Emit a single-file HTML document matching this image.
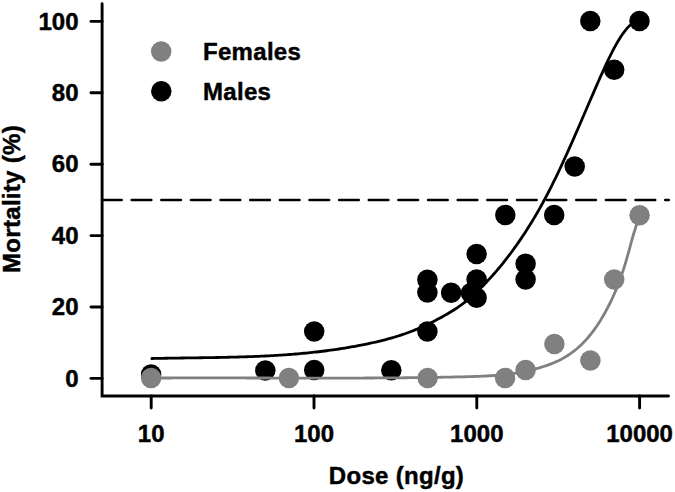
<!DOCTYPE html><html><head><meta charset="utf-8"><style>html,body{margin:0;padding:0;background:#fff;}svg{display:block;}text{font-family:"Liberation Sans",sans-serif;font-weight:bold;font-size:24px;fill:#000;stroke:#000;stroke-width:0.45px;}.w{letter-spacing:0.3px;}</style></head><body>
<svg width="675" height="492" viewBox="0 0 675 492">
<g stroke="#000" stroke-width="2.9" stroke-linecap="round" fill="none">
<path d="M102.1,3.7 L102.1,396 L668.5,396" stroke-linejoin="miter"/>
<line x1="91" y1="378.36" x2="102.1" y2="378.36"/>
<line x1="91" y1="306.97" x2="102.1" y2="306.97"/>
<line x1="91" y1="235.58" x2="102.1" y2="235.58"/>
<line x1="91" y1="164.18" x2="102.1" y2="164.18"/>
<line x1="91" y1="92.79" x2="102.1" y2="92.79"/>
<line x1="91" y1="21.40" x2="102.1" y2="21.40"/>
<line x1="151.20" y1="396" x2="151.20" y2="408"/>
<line x1="314.00" y1="396" x2="314.00" y2="408"/>
<line x1="476.80" y1="396" x2="476.80" y2="408"/>
<line x1="639.60" y1="396" x2="639.60" y2="408"/>
</g>
<line x1="102.1" y1="200" x2="668.8" y2="200" stroke="#000" stroke-width="2.7" stroke-dasharray="19.5 10.14" stroke-linecap="round"/>
<text x="78.5" y="386.56" text-anchor="end">0</text>
<text x="78.5" y="315.17" text-anchor="end">20</text>
<text x="78.5" y="243.78" text-anchor="end">40</text>
<text x="78.5" y="172.38" text-anchor="end">60</text>
<text x="78.5" y="100.99" text-anchor="end">80</text>
<text x="78.5" y="29.60" text-anchor="end">100</text>
<text x="151.20" y="442" text-anchor="middle">10</text>
<text x="314.00" y="442" text-anchor="middle">100</text>
<text x="476.80" y="442" text-anchor="middle">1000</text>
<text x="639.60" y="442" text-anchor="middle">10000</text>
<text class="w" x="396.5" y="484" text-anchor="middle">Dose (ng/g)</text>
<text class="w" transform="translate(19.6,199) rotate(-90)" text-anchor="middle">Mortality (%)</text>
<circle cx="161.2" cy="51.6" r="10.25" fill="#808080"/>
<circle cx="161.3" cy="91.25" r="10.25" fill="#000"/>
<text class="w" x="203" y="60">Females</text>
<text class="w" x="203" y="100.1">Males</text>
<circle cx="151.1" cy="374.4" r="10.25" fill="#000"/>
<circle cx="265.3" cy="370.5" r="10.25" fill="#000"/>
<circle cx="314.2" cy="331.4" r="10.25" fill="#000"/>
<circle cx="314.2" cy="370.1" r="10.25" fill="#000"/>
<circle cx="391.3" cy="370.2" r="10.25" fill="#000"/>
<circle cx="427.4" cy="279.8" r="10.25" fill="#000"/>
<circle cx="427.4" cy="292.55" r="10.25" fill="#000"/>
<circle cx="427.4" cy="331.55" r="10.25" fill="#000"/>
<circle cx="451.15" cy="292.75" r="10.25" fill="#000"/>
<circle cx="470.95" cy="293.1" r="10.25" fill="#000"/>
<circle cx="476.6" cy="253.95" r="10.25" fill="#000"/>
<circle cx="476.6" cy="279.55" r="10.25" fill="#000"/>
<circle cx="476.6" cy="297.85" r="10.25" fill="#000"/>
<circle cx="505.3" cy="215.0" r="10.25" fill="#000"/>
<circle cx="525.6" cy="263.65" r="10.25" fill="#000"/>
<circle cx="525.6" cy="279.55" r="10.25" fill="#000"/>
<circle cx="554.2" cy="215.0" r="10.25" fill="#000"/>
<circle cx="574.7" cy="166.55" r="10.25" fill="#000"/>
<circle cx="590.3" cy="21.05" r="10.25" fill="#000"/>
<circle cx="614.2" cy="69.8" r="10.25" fill="#000"/>
<circle cx="639.5" cy="21.05" r="10.25" fill="#000"/>
<circle cx="151.1" cy="378" r="10.25" fill="#808080"/>
<circle cx="288.9" cy="378" r="10.25" fill="#808080"/>
<circle cx="427.6" cy="378" r="10.25" fill="#808080"/>
<circle cx="505.1" cy="377.9" r="10.25" fill="#808080"/>
<circle cx="525.6" cy="370.1" r="10.25" fill="#808080"/>
<circle cx="554.4" cy="344" r="10.25" fill="#808080"/>
<circle cx="590.4" cy="360.5" r="10.25" fill="#808080"/>
<circle cx="614.2" cy="279.5" r="10.25" fill="#808080"/>
<circle cx="639.6" cy="215.3" r="10.25" fill="#808080"/>
<polyline points="151.00,378.07 153.04,378.05 155.09,378.04 157.13,378.03 159.18,378.03 161.22,378.02 163.27,378.01 165.31,378.00 167.35,377.99 169.40,377.99 171.44,377.98 173.49,377.97 175.53,377.97 177.58,377.96 179.62,377.96 181.67,377.96 183.71,377.95 185.75,377.95 187.80,377.94 189.84,377.94 191.89,377.94 193.93,377.94 195.98,377.94 198.02,377.94 200.06,377.93 202.11,377.93 204.15,377.93 206.20,377.93 208.24,377.93 210.29,377.93 212.33,377.93 214.37,377.94 216.42,377.94 218.46,377.94 220.51,377.94 222.55,377.94 224.60,377.94 226.64,377.95 228.69,377.95 230.73,377.95 232.77,377.95 234.82,377.96 236.86,377.96 238.91,377.96 240.95,377.97 243.00,377.97 245.04,377.97 247.08,377.98 249.13,377.98 251.17,377.99 253.22,377.99 255.26,377.99 257.31,378.00 259.35,378.00 261.39,378.01 263.44,378.01 265.48,378.01 267.53,378.02 269.57,378.02 271.62,378.03 273.66,378.03 275.71,378.03 277.75,378.04 279.79,378.04 281.84,378.05 283.88,378.05 285.93,378.05 287.97,378.06 290.02,378.06 292.06,378.06 294.10,378.07 296.15,378.07 298.19,378.07 300.24,378.08 302.28,378.08 304.33,378.08 306.37,378.08 308.42,378.08 310.46,378.09 312.50,378.09 314.55,378.09 316.59,378.09 318.64,378.09 320.68,378.09 322.73,378.09 324.77,378.09 326.81,378.09 328.86,378.09 330.90,378.09 332.95,378.09 334.99,378.09 337.04,378.08 339.08,378.08 341.12,378.08 343.17,378.08 345.21,378.07 347.26,378.07 349.30,378.07 351.35,378.06 353.39,378.06 355.44,378.05 357.48,378.05 359.52,378.04 361.57,378.03 363.61,378.03 365.66,378.02 367.70,378.01 369.75,378.00 371.79,377.99 373.83,377.98 375.88,377.97 377.92,377.96 379.97,377.95 382.01,377.94 384.06,377.93 386.10,377.91 388.14,377.90 390.19,377.88 392.23,377.87 394.28,377.85 396.32,377.84 398.37,377.82 400.41,377.80 402.46,377.78 404.50,377.77 406.54,377.74 408.59,377.72 410.63,377.70 412.68,377.68 414.72,377.66 416.77,377.63 418.81,377.61 420.85,377.58 422.90,377.55 424.94,377.52 426.99,377.50 429.03,377.47 431.08,377.43 433.12,377.40 435.16,377.37 437.21,377.33 439.25,377.30 441.30,377.26 443.34,377.22 445.39,377.19 447.43,377.15 449.48,377.10 451.52,377.06 453.56,377.02 455.61,376.97 457.65,376.93 459.70,376.88 461.74,376.83 463.79,376.78 465.83,376.73 467.87,376.68 469.92,376.62 471.96,376.56 474.01,376.50 476.05,376.43 478.10,376.36 480.14,376.28 482.18,376.20 484.23,376.10 486.27,376.00 488.32,375.89 490.36,375.77 492.41,375.63 494.45,375.49 496.50,375.33 498.54,375.16 500.58,374.98 502.63,374.78 504.67,374.57 506.72,374.34 508.76,374.09 510.81,373.82 512.85,373.54 514.89,373.24 516.94,372.91 518.98,372.57 521.03,372.20 523.07,371.82 525.12,371.40 527.16,370.97 529.21,370.51 531.25,370.02 533.29,369.51 535.34,368.97 537.38,368.41 539.43,367.81 541.47,367.19 543.52,366.53 545.56,365.85 547.60,365.13 549.65,364.38 551.69,363.59 553.74,362.76 555.78,361.88 557.83,360.94 559.87,359.94 561.91,358.89 563.96,357.76 566.00,356.55 568.05,355.27 570.09,353.91 572.14,352.45 574.18,350.90 576.23,349.25 578.27,347.50 580.31,345.64 582.36,343.66 584.40,341.56 586.45,339.34 588.49,336.99 590.54,334.51 592.58,331.89 594.62,329.12 596.67,326.20 598.71,323.13 600.76,319.89 602.80,316.50 604.85,312.93 606.89,309.19 608.93,305.26 610.98,301.13 613.02,296.75 615.07,292.10 617.11,287.15 619.16,281.86 621.20,276.20 623.25,270.13 625.29,263.63 627.33,256.67 629.38,249.27 631.42,241.74 633.47,234.50 635.51,227.86 637.56,221.65 639.60,215.40" fill="none" stroke="#808080" stroke-width="2.8" stroke-linejoin="round"/>
<polyline points="150.70,358.55 152.75,358.51 154.79,358.46 156.84,358.42 158.88,358.38 160.93,358.34 162.97,358.31 165.02,358.27 167.06,358.24 169.11,358.20 171.15,358.17 173.20,358.14 175.24,358.11 177.29,358.08 179.33,358.05 181.38,358.02 183.42,357.99 185.47,357.97 187.51,357.94 189.56,357.91 191.60,357.88 193.65,357.86 195.69,357.83 197.74,357.80 199.78,357.77 201.83,357.74 203.87,357.71 205.92,357.68 207.97,357.65 210.01,357.62 212.06,357.59 214.10,357.55 216.15,357.52 218.19,357.48 220.24,357.44 222.28,357.40 224.33,357.36 226.37,357.32 228.42,357.27 230.46,357.22 232.51,357.17 234.55,357.12 236.60,357.07 238.64,357.01 240.69,356.95 242.73,356.89 244.78,356.83 246.82,356.76 248.87,356.69 250.91,356.61 252.96,356.54 255.00,356.46 257.05,356.37 259.09,356.29 261.14,356.20 263.19,356.10 265.23,356.00 267.28,355.90 269.32,355.79 271.37,355.68 273.41,355.57 275.46,355.45 277.50,355.33 279.55,355.20 281.59,355.07 283.64,354.93 285.68,354.79 287.73,354.64 289.77,354.49 291.82,354.33 293.86,354.16 295.91,354.00 297.95,353.82 300.00,353.64 302.04,353.46 304.09,353.26 306.13,353.07 308.18,352.86 310.22,352.65 312.27,352.44 314.32,352.21 316.36,351.99 318.41,351.75 320.45,351.51 322.50,351.26 324.54,351.00 326.59,350.74 328.63,350.47 330.68,350.19 332.72,349.91 334.77,349.61 336.81,349.31 338.86,349.01 340.90,348.69 342.95,348.37 344.99,348.04 347.04,347.70 349.08,347.35 351.13,346.99 353.17,346.63 355.22,346.26 357.26,345.87 359.31,345.48 361.35,345.08 363.40,344.68 365.44,344.26 367.49,343.83 369.54,343.40 371.58,342.95 373.63,342.50 375.67,342.03 377.72,341.55 379.76,341.07 381.81,340.56 383.85,340.05 385.90,339.52 387.94,338.97 389.99,338.41 392.03,337.83 394.08,337.24 396.12,336.63 398.17,335.99 400.21,335.34 402.26,334.67 404.30,333.97 406.35,333.25 408.39,332.51 410.44,331.75 412.48,330.96 414.53,330.14 416.57,329.30 418.62,328.44 420.66,327.55 422.71,326.64 424.76,325.70 426.80,324.74 428.85,323.76 430.89,322.76 432.94,321.73 434.98,320.68 437.03,319.61 439.07,318.52 441.12,317.41 443.16,316.28 445.21,315.13 447.25,313.96 449.30,312.76 451.34,311.53 453.39,310.26 455.43,308.95 457.48,307.59 459.52,306.17 461.57,304.70 463.61,303.16 465.66,301.56 467.70,299.90 469.75,298.18 471.79,296.41 473.84,294.58 475.88,292.70 477.93,290.76 479.98,288.77 482.02,286.73 484.07,284.65 486.11,282.51 488.16,280.33 490.20,278.10 492.25,275.83 494.29,273.51 496.34,271.15 498.38,268.74 500.43,266.28 502.47,263.78 504.52,261.23 506.56,258.63 508.61,255.97 510.65,253.26 512.70,250.50 514.74,247.68 516.79,244.81 518.83,241.88 520.88,238.89 522.92,235.83 524.97,232.72 527.01,229.54 529.06,226.30 531.11,223.00 533.15,219.63 535.20,216.19 537.24,212.68 539.29,209.10 541.33,205.45 543.38,201.73 545.42,197.93 547.47,194.06 549.51,190.11 551.56,186.09 553.60,181.98 555.65,177.80 557.69,173.55 559.74,169.24 561.78,164.86 563.83,160.43 565.87,155.94 567.92,151.41 569.96,146.83 572.01,142.22 574.05,137.57 576.10,132.90 578.14,128.20 580.19,123.49 582.23,118.76 584.28,114.02 586.33,109.28 588.37,104.54 590.42,99.80 592.46,95.08 594.51,90.37 596.55,85.68 598.60,81.01 600.64,76.39 602.69,71.83 604.73,67.34 606.78,62.94 608.82,58.65 610.87,54.50 612.91,50.49 614.96,46.65 617.00,42.98 619.05,39.53 621.09,36.29 623.14,33.30 625.18,30.58 627.23,28.15 629.27,26.04 631.32,24.27 633.36,22.87 635.41,21.85 637.45,21.24 639.50,21.08" fill="none" stroke="#000" stroke-width="2.8" stroke-linejoin="round"/>
</svg></body></html>
